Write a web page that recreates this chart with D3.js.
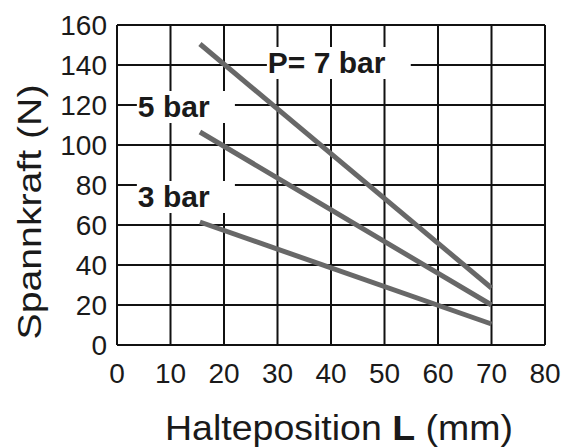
<!DOCTYPE html>
<meta charset="utf-8">
<title>Spannkraft</title>
<script src="https://d3js.org/d3.v7.min.js"></script>
<style>
  body { margin: 0; background: white; }
  svg { display: block; font-family: "Liberation Sans", Arial, sans-serif; }
</style>
<body>
<div id="chart"></div>
<script>
// values
var xTicks = [0, 10, 20, 30, 40, 50, 60, 70, 80];
var yTicks = [0, 20, 40, 60, 80, 100, 120, 140, 160];
var positions = [15.5, 70];          // Halteposition L (mm)
var force7 = [150.5, 28.5];          // P = 7 bar
var force5 = [106.5, 20];            // 5 bar
var force3 = [61.5, 10.5];           // 3 bar
var seriesNames = ["P= 7 bar", "5 bar", "3 bar"];
var labelX = [28.2, 3.9, 3.9];       // label anchor in data units
var labelY = [136, 114, 69];

var W = 576, H = 448;
var margin = {top: 25, right: 31, bottom: 103, left: 117},
    width = W - margin.left - margin.right,
    height = H - margin.top - margin.bottom;

var svg = d3.select("#chart")
  .append("svg")
    .attr("width", W)
    .attr("height", H);

var g = svg.append("g")
    .attr("transform", "translate(" + margin.left + "," + margin.top + ")");

var x = d3.scaleLinear().domain([0, 80]).range([0, width]);
var y = d3.scaleLinear().domain([0, 160]).range([height, 0]);

// grid
g.selectAll(".vgrid")
  .data(xTicks)
  .enter()
  .append("line")
    .attr("x1", function(d) { return x(d); })
    .attr("x2", function(d) { return x(d); })
    .attr("y1", 0)
    .attr("y2", height)
    .attr("stroke", "#111")
    .attr("stroke-width", 2);

g.selectAll(".hgrid")
  .data(yTicks)
  .enter()
  .append("line")
    .attr("x1", 0)
    .attr("x2", width)
    .attr("y1", function(d) { return y(d); })
    .attr("y2", function(d) { return y(d); })
    .attr("stroke", "#111")
    .attr("stroke-width", 2);

// tick labels
g.selectAll(".xlab")
  .data(xTicks)
  .enter()
  .append("text")
    .attr("x", function(d) { return x(d); })
    .attr("y", height + 38)
    .attr("text-anchor", "middle")
    .style("font-size", "28px")
    .style("fill", "#1a1a1a")
    .text(function(d) { return d; });

g.selectAll(".ylab")
  .data(yTicks)
  .enter()
  .append("text")
    .attr("x", -10)
    .attr("y", function(d) { return y(d); })
    .attr("dy", "0.36em")
    .attr("text-anchor", "end")
    .style("font-size", "28px")
    .style("fill", "#1a1a1a")
    .text(function(d) { return d; });

// series lines
var series = [force7, force5, force3];
var line = d3.line()
  .x(function(d, i) { return x(positions[i]); })
  .y(function(d) { return y(d); });

g.selectAll(".curve")
  .data(series)
  .enter()
  .append("path")
    .attr("d", function(d) { return line(d); })
    .attr("fill", "none")
    .attr("stroke", "#686868")
    .attr("stroke-width", 5);

// labels with white boxes that cut the grid
seriesNames.forEach(function(name, i) {
  var lg = g.append("g");
  var box = lg.append("rect").attr("fill", "white");
  var t = lg.append("text")
    .attr("x", x(labelX[i]))
    .attr("y", y(labelY[i]))
    .style("font-size", "30px")
    .style("font-weight", "bold")
    .style("fill", "#1a1a1a")
    .text(name);
  var bb = t.node().getBBox();
  box.attr("x", bb.x - 1)
    .attr("y", bb.y + 1)
    .attr("width", bb.width + 26)
    .attr("height", bb.height - 1);
});

// axis titles
svg.append("text")
  .attr("x", 339)
  .attr("y", 440)
  .attr("text-anchor", "middle")
  .attr("textLength", 348)
  .attr("lengthAdjust", "spacingAndGlyphs")
  .style("font-size", "35px")
  .style("fill", "#1a1a1a")
  .html('Halteposition <tspan style="font-weight:bold">L</tspan> (mm)');

svg.append("text")
  .attr("transform", "translate(41,212) rotate(-90)")
  .attr("text-anchor", "middle")
  .attr("textLength", 255)
  .attr("lengthAdjust", "spacingAndGlyphs")
  .style("font-size", "34px")
  .style("fill", "#1a1a1a")
  .text("Spannkraft (N)");
</script>
</body>
